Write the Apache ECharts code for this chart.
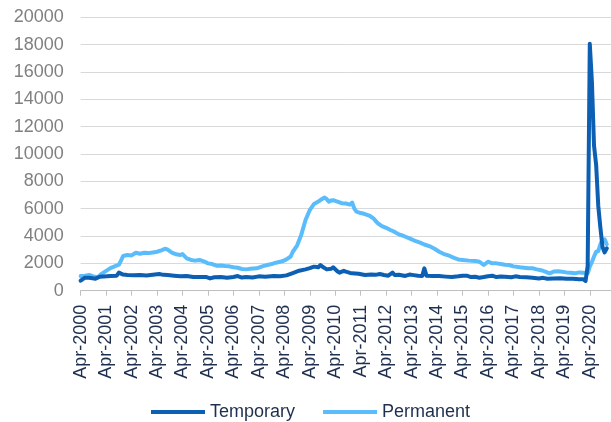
<!DOCTYPE html>
<html>
<head>
<meta charset="utf-8">
<script src="https://cdn.jsdelivr.net/npm/echarts@6/dist/echarts.min.js"></script>
<style>
  html, body { margin: 0; padding: 0; background: #ffffff; }
  #chart { width: 611px; height: 422px; }
</style>
</head>
<body>
<div id="chart"></div>
<script>
// Month index: 0 = Apr-2000, 12 = Apr-2001, ... 240 = Apr-2020
const tickLabels = ["Apr-2000","Apr-2001","Apr-2002","Apr-2003","Apr-2004","Apr-2005","Apr-2006",
  "Apr-2007","Apr-2008","Apr-2009","Apr-2010","Apr-2011","Apr-2012","Apr-2013","Apr-2014",
  "Apr-2015","Apr-2016","Apr-2017","Apr-2018","Apr-2019","Apr-2020"];

const tempMonths = [0,2,4,7,9,14,17,18,20,22,25,28,31,33,37,39,41,44,47,50,53,56,59,61,63,66,69,72,74,76,78,81,84,87,91,94,97,100,103,106,108,110,112,113,114,116,118,119,121,122,124,125,127,128,131,134,137,139,141,143,145,147,148,150,153,155,157,159,161,162,163,166,169,172,175,178,180,182,184,186,188,190,192,194,196,198,200,203,205,207,210,213,216,218,220,223,226,229,232,235,237,238,239,240,241,242,243,244,245,246,247,248];
const tempValues = [730,950,950,880,1020,1070,1100,1320,1180,1150,1130,1150,1120,1150,1220,1160,1150,1100,1060,1070,1000,1000,1010,900,980,1000,950,1000,1070,960,1000,960,1050,1020,1070,1050,1120,1290,1460,1560,1650,1760,1710,1880,1750,1560,1600,1710,1420,1320,1450,1390,1300,1270,1240,1150,1190,1160,1220,1150,1100,1320,1150,1170,1080,1180,1140,1100,1080,1630,1100,1080,1070,1030,1000,1050,1100,1100,1000,1020,950,1000,1060,1100,1000,1040,1020,980,1050,1000,980,950,900,940,880,900,910,870,880,840,830,710,1800,18060,15300,10600,9200,6200,4600,3200,2800,3100];

const permMonths = [0,2,4,6,8,10,12,14,16,18,19,20,22,24,26,28,30,32,34,36,38,40,41,43,45,47,48,50,52,54,56,58,60,62,64,66,68,70,72,74,76,78,80,83,86,88,90,92,95,97,99,100,102,104,106,108,110,112,113,115,116,117,118,119,121,123,125,127,128,129,130,132,134,136,138,140,142,144,146,148,150,152,155,158,160,162,165,167,169,171,174,176,178,180,183,186,188,190,192,194,196,198,200,202,204,207,209,211,213,215,217,219,221,223,225,227,229,231,233,235,237,239,240,241,242,243,244,245,246,247,248];
const permValues = [1075,1100,1150,1050,980,1250,1450,1650,1780,1900,2200,2540,2610,2580,2780,2700,2780,2750,2800,2850,2950,3070,3000,2780,2660,2610,2680,2370,2250,2200,2250,2150,2000,1950,1830,1850,1800,1780,1710,1680,1590,1560,1600,1640,1800,1880,1950,2050,2150,2290,2500,2850,3300,4100,5170,5900,6350,6520,6630,6820,6700,6510,6600,6620,6520,6400,6380,6300,6450,6000,5780,5680,5610,5500,5290,4950,4730,4600,4440,4300,4120,4020,3830,3620,3510,3380,3220,3050,2850,2700,2540,2400,2290,2250,2200,2180,2120,1880,2120,2000,2000,1950,1900,1880,1780,1710,1680,1640,1640,1560,1500,1400,1270,1400,1420,1380,1340,1320,1270,1340,1320,1260,1760,2100,2500,2850,2900,3400,3710,3760,3400];

const seriesNames = ["Temporary", "Permanent"];

function pairs(xs, ys) { return xs.map((x, i) => [x, ys[i]]); }

const chart = echarts.init(document.getElementById('chart'), null, { renderer: 'canvas' });
const font = "'Liberation Sans', Arial, sans-serif";

chart.setOption({
  animation: false,
  backgroundColor: '#ffffff',
  grid: { left: 80.7, top: 17.3, width: 530.6, height: 273.4, containLabel: false },
  legend: {
    data: seriesNames,
    left: 146, top: 398,
    icon: 'rect', itemWidth: 54, itemHeight: 4, itemGap: 28,
    textStyle: { fontFamily: font, fontSize: 18, color: '#1f2f4f' }
  },
  xAxis: {
    type: 'value', min: 0, max: 250, interval: 12,
    axisLine: { show: true, lineStyle: { color: '#bfbfbf', width: 1 } },
    axisTick: { show: true, length: 5, lineStyle: { color: '#bfbfbf' } },
    splitLine: { show: false },
    axisLabel: {
      rotate: 90, margin: 14, fontFamily: font, fontSize: 18, color: '#1f2f4f',
      showMaxLabel: false,
      formatter: function (v) { const i = v / 12; return Number.isInteger(i) && tickLabels[i] ? tickLabels[i] : ''; }
    }
  },
  yAxis: {
    type: 'value', min: 0, max: 20000, interval: 2000,
    axisLine: { show: false }, axisTick: { show: false },
    splitLine: { lineStyle: { color: '#d9d9d9', width: 1 } },
    axisLabel: { margin: 17, fontFamily: font, fontSize: 18, color: '#808080',
      formatter: function (v) { return String(v); } }
  },
  series: [
    { name: seriesNames[0], type: 'line', data: pairs(tempMonths, tempValues), showSymbol: false, symbol: 'none',
      z: 3, lineStyle: { color: '#0c5fb3', width: 4, cap: 'round', join: 'round' }, itemStyle: { color: '#0c5fb3' } },
    { name: seriesNames[1], type: 'line', data: pairs(permMonths, permValues), showSymbol: false, symbol: 'none',
      z: 2, lineStyle: { color: '#5bbcfb', width: 4, cap: 'round', join: 'round' }, itemStyle: { color: '#5bbcfb' } }
  ]
});
</script>
</body>
</html>
